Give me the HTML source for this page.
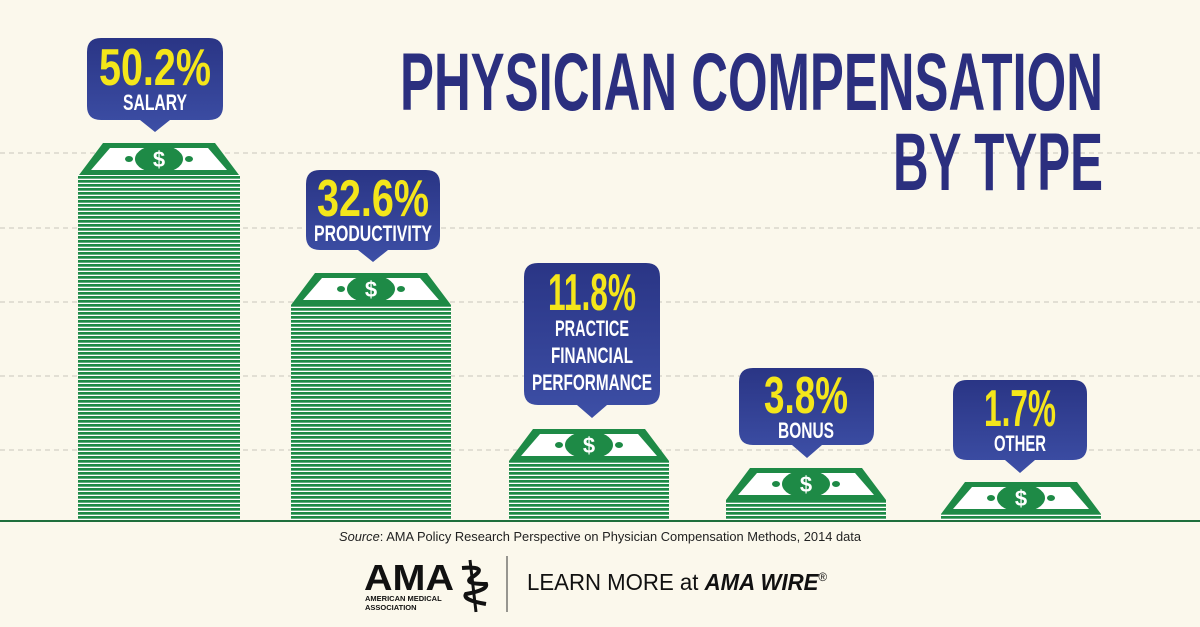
<!DOCTYPE html>
<html><head><meta charset="utf-8"><style>
html,body{margin:0;padding:0;background:#fbf8ec;}
svg{display:block}
</style></head><body>
<svg width="1200" height="627" viewBox="0 0 1200 627" xmlns="http://www.w3.org/2000/svg">
<defs>
<pattern id="st" width="10" height="4" patternUnits="userSpaceOnUse">
<rect width="10" height="4" fill="#ffffff"/><rect width="10" height="2.7" fill="#1e8a46"/>
</pattern>
<linearGradient id="bg" x1="0" y1="0" x2="0" y2="1"><stop offset="0" stop-color="#2a3585"/><stop offset="1" stop-color="#3d4fa6"/></linearGradient>
<g id="bill">
<polygon points="24,0 136,0 160,32 0,32" fill="#1e8a46"/>
<polygon points="31,5 129,5 148,27 12,27" fill="#ffffff"/>
<ellipse cx="80" cy="16" rx="24" ry="14" fill="#1e8a46"/>
<ellipse cx="50" cy="16" rx="4" ry="3" fill="#1e8a46"/>
<ellipse cx="110" cy="16" rx="4" ry="3" fill="#1e8a46"/>
<text x="80" y="24" text-anchor="middle" font-family="Liberation Sans, sans-serif" font-weight="bold" font-size="22" fill="#fff">$</text>
</g>
</defs>
<rect width="1200" height="627" fill="#fbf8ec"/>
<g stroke="#c9c6bb" stroke-width="1" stroke-dasharray="5,4">
<line x1="0" y1="153" x2="1200" y2="153"/>
<line x1="0" y1="228" x2="1200" y2="228"/>
<line x1="0" y1="302" x2="1200" y2="302"/>
<line x1="0" y1="376" x2="1200" y2="376"/>
<line x1="0" y1="450" x2="1200" y2="450"/>
</g>
<g font-family="Liberation Sans, sans-serif" font-weight="bold" fill="#2b2f7f">
<text x="1103" y="110" text-anchor="end" font-size="82" textLength="703" lengthAdjust="spacingAndGlyphs">PHYSICIAN COMPENSATION</text>
<text x="1103" y="190" text-anchor="end" font-size="82" textLength="210" lengthAdjust="spacingAndGlyphs">BY TYPE</text>
</g>
<rect x="78" y="175" width="162" height="345" fill="url(#st)"/>
<use href="#bill" transform="translate(79,143)"/>
<rect x="291" y="305" width="160" height="215" fill="url(#st)"/>
<use href="#bill" transform="translate(291,273)"/>
<rect x="509" y="461" width="160" height="59" fill="url(#st)"/>
<use href="#bill" transform="translate(509,429)"/>
<rect x="726" y="500" width="160" height="20" fill="url(#st)"/>
<use href="#bill" transform="translate(726,468)"/>
<rect x="941" y="514" width="160" height="6" fill="url(#st)"/>
<use href="#bill" transform="translate(941,482)"/>
<line x1="0" y1="521" x2="1200" y2="521" stroke="#1e6f3c" stroke-width="2"/>
<g font-family="Liberation Sans, sans-serif" font-weight="bold" text-anchor="middle">
<path d="M101,38 H209 Q223,38 223,52 V106 Q223,120 209,120 H170 L155,132 L140,120 H101 Q87,120 87,106 V52 Q87,38 101,38Z" fill="url(#bg)"/>
<text x="155" y="85" font-size="52" fill="#f4e61a" textLength="112" lengthAdjust="spacingAndGlyphs">50.2%</text>
<text x="155" y="110" font-size="22" fill="#fff" textLength="64" lengthAdjust="spacingAndGlyphs">SALARY</text>

<path d="M320,170 H426 Q440,170 440,184 V236 Q440,250 426,250 H388 L373,262 L358,250 H320 Q306,250 306,236 V184 Q306,170 320,170Z" fill="url(#bg)"/>
<text x="373" y="216" font-size="52" fill="#f4e61a" textLength="112" lengthAdjust="spacingAndGlyphs">32.6%</text>
<text x="373" y="241" font-size="22" fill="#fff" textLength="118" lengthAdjust="spacingAndGlyphs">PRODUCTIVITY</text>

<path d="M538,263 H646 Q660,263 660,277 V391 Q660,405 646,405 H607 L592,418 L577,405 H538 Q524,405 524,391 V277 Q524,263 538,263Z" fill="url(#bg)"/>
<text x="592" y="310" font-size="52" fill="#f4e61a" textLength="88" lengthAdjust="spacingAndGlyphs">11.8%</text>
<text x="592" y="336" font-size="22" fill="#fff" textLength="74" lengthAdjust="spacingAndGlyphs">PRACTICE</text>
<text x="592" y="363" font-size="22" fill="#fff" textLength="82" lengthAdjust="spacingAndGlyphs">FINANCIAL</text>
<text x="592" y="390" font-size="22" fill="#fff" textLength="120" lengthAdjust="spacingAndGlyphs">PERFORMANCE</text>

<path d="M753,368 H860 Q874,368 874,382 V431 Q874,445 860,445 H822 L807,458 L792,445 H753 Q739,445 739,431 V382 Q739,368 753,368Z" fill="url(#bg)"/>
<text x="806" y="413" font-size="52" fill="#f4e61a" textLength="84" lengthAdjust="spacingAndGlyphs">3.8%</text>
<text x="806" y="438" font-size="22" fill="#fff" textLength="56" lengthAdjust="spacingAndGlyphs">BONUS</text>

<path d="M967,380 H1073 Q1087,380 1087,394 V446 Q1087,460 1073,460 H1035 L1020,473 L1005,460 H967 Q953,460 953,446 V394 Q953,380 967,380Z" fill="url(#bg)"/>
<text x="1020" y="426" font-size="52" fill="#f4e61a" textLength="72" lengthAdjust="spacingAndGlyphs">1.7%</text>
<text x="1020" y="451" font-size="22" fill="#fff" textLength="52" lengthAdjust="spacingAndGlyphs">OTHER</text>
</g>
<text x="600" y="541" text-anchor="middle" font-family="Liberation Sans, sans-serif" font-size="13" fill="#222" textLength="522" lengthAdjust="spacingAndGlyphs"><tspan font-style="italic">Source</tspan>: AMA Policy Research Perspective on Physician Compensation Methods, 2014 data</text>
<text x="364" y="590" font-family="Liberation Sans, sans-serif" font-weight="bold" font-size="36" fill="#111" textLength="90" lengthAdjust="spacingAndGlyphs">AMA</text>
<text x="365" y="601" font-family="Liberation Sans, sans-serif" font-weight="bold" font-size="7.5" fill="#111">AMERICAN MEDICAL</text>
<text x="365" y="610" font-family="Liberation Sans, sans-serif" font-weight="bold" font-size="7.5" fill="#111">ASSOCIATION</text>
<path d="M470,560 L476,612" stroke="#111" stroke-width="3"/>
<path d="M462,568 Q488,566 474,576 Q460,584 486,584 Q488,590 466,594 Q462,600 486,604" fill="none" stroke="#111" stroke-width="4"/>
<line x1="507" y1="556" x2="507" y2="612" stroke="#333" stroke-width="1"/>
<text x="527" y="590" font-family="Liberation Sans, sans-serif" font-size="23" fill="#111" textLength="300" lengthAdjust="spacingAndGlyphs">LEARN MORE at <tspan font-weight="bold" font-style="italic">AMA WIRE</tspan><tspan font-size="12" dy="-9">®</tspan></text>
</svg>
</body></html>
